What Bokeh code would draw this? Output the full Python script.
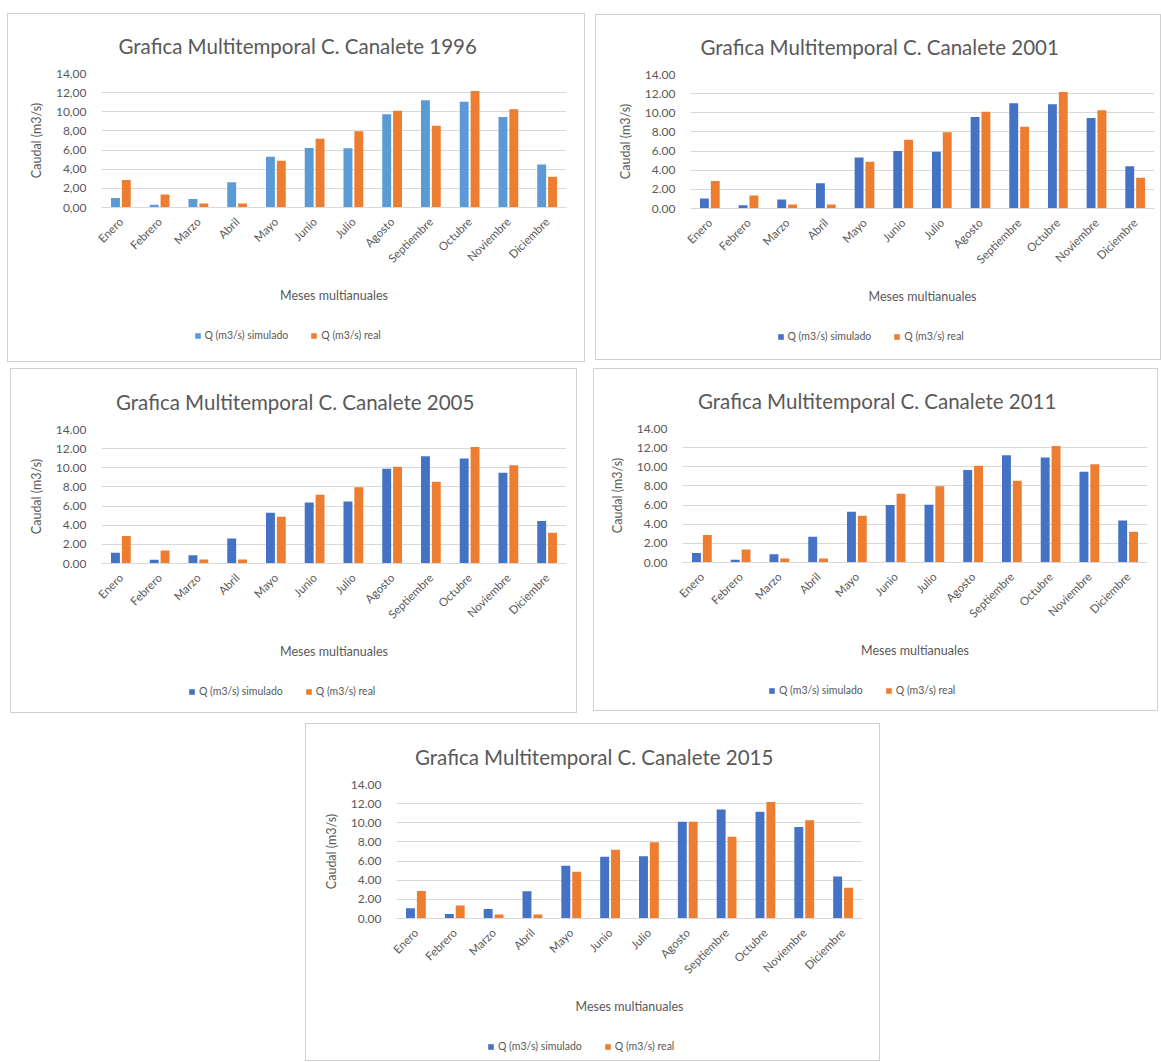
from math import pi
from bokeh.plotting import figure
from bokeh.models import (Range1d, FactorRange, FixedTicker, Legend, LegendItem,
                          ColumnDataSource)
from bokeh.transform import dodge
from bokeh.layouts import column, row
from bokeh.embed import file_html
from bokeh.resources import INLINE

# ---------------- data ----------------
months = ["Enero", "Febrero", "Marzo", "Abril", "Mayo", "Junio", "Julio",
          "Agosto", "Septiembre", "Octubre", "Noviembre", "Diciembre"]

real = [2.87, 1.35, 0.42, 0.42, 4.88, 7.17, 7.97, 10.12, 8.55, 12.18, 10.26, 3.22]

sim_1996 = [1.00, 0.30, 0.90, 2.65, 5.30, 6.22, 6.18, 9.75, 11.20, 11.05, 9.46, 4.48]
sim_2001 = [1.05, 0.35, 0.95, 2.65, 5.33, 6.00, 5.93, 9.55, 11.00, 10.90, 9.46, 4.41]
sim_2005 = [1.13, 0.38, 0.86, 2.60, 5.30, 6.38, 6.48, 9.90, 11.20, 10.97, 9.49, 4.45]
sim_2011 = [1.00, 0.30, 0.87, 2.70, 5.30, 6.00, 6.03, 9.66, 11.20, 10.97, 9.48, 4.38]
sim_2015 = [1.08, 0.47, 0.98, 2.85, 5.50, 6.44, 6.50, 10.10, 11.40, 11.15, 9.56, 4.40]

y_ticks = [0, 2, 4, 6, 8, 10, 12, 14]
y_labels_comma = ["0,00", "2,00", "4,00", "6,00", "8,00", "10,00", "12,00", "14,00"]
y_labels_dot = ["0.00", "2.00", "4.00", "6.00", "8.00", "10.00", "12.00", "14.00"]

title_prefix = "Grafica Multitemporal C. Canalete "
x_title = "Meses multianuales"
y_title = "Caudal (m3/s)"
label_sim = "Q (m3/s) simulado"
label_real = "Q (m3/s) real"

# ---------------- style ----------------
FONT = "Lato"
TXT = "#595959"
GRID = "#d9d9d9"
ORANGE = "#ED7D31"
BLUE_LIGHT = "#5B9BD5"
BLUE_DARK = "#4472C4"
TITLE_W = 358   # approximate rendered width of the title text
LEGEND_W = 205  # approximate rendered width of the legend
LEGEND_SHIFT = 94  # measured offset of the legend strip's origin


def panel(year, sim, sim_color, ylabels, w, h, left, right, top, bottom, margin):
    h_leg = 2 * (bottom - 128)
    src = ColumnDataSource(dict(month=months, sim=sim, real=real))
    p = figure(x_range=FactorRange(*months), y_range=Range1d(0, 14),
               width=w - 2, height=h - 2 - h_leg, output_backend="svg",
               toolbar_location=None,
               min_border_left=left, min_border_right=right,
               min_border_top=top, min_border_bottom=bottom - h_leg,
               title=title_prefix + year)
    p.outline_line_color = None
    p.background_fill_color = "white"
    p.border_fill_color = "white"

    # title centred on the whole panel (left aligned + offset)
    p.title.align = "left"
    p.title.offset = (w - TITLE_W) / 2.0 - left
    p.title.text_font = FONT
    p.title.text_font_size = "20.5px"
    p.title.text_font_style = "normal"
    p.title.text_color = TXT
    p.title.standoff = 31

    p.vbar(x=dodge("month", -0.14, range=p.x_range), top="sim", width=0.23,
           source=src, fill_color=sim_color, line_color=None)
    p.vbar(x=dodge("month", 0.14, range=p.x_range), top="real", width=0.23,
           source=src, fill_color=ORANGE, line_color=None)

    # y axis
    p.yaxis.ticker = FixedTicker(ticks=y_ticks)
    p.yaxis.major_label_overrides = {t: l for t, l in zip(y_ticks, ylabels)}
    p.yaxis.axis_line_color = None
    p.yaxis.major_tick_line_color = None
    p.yaxis.minor_tick_line_color = None
    p.yaxis.major_label_standoff = 9
    p.yaxis.major_label_text_font = FONT
    p.yaxis.major_label_text_font_size = "12px"
    p.yaxis.major_label_text_color = TXT
    p.yaxis.axis_label = y_title
    p.yaxis.axis_label_text_font = FONT
    p.yaxis.axis_label_text_font_size = "12.5px"
    p.yaxis.axis_label_text_font_style = "normal"
    p.yaxis.axis_label_text_color = TXT
    p.yaxis.axis_label_standoff = 9

    # x axis
    p.xaxis.axis_line_color = GRID
    p.xaxis.major_tick_line_color = None
    p.xaxis.minor_tick_line_color = None
    p.xaxis.major_label_orientation = pi / 4
    p.xaxis.major_label_standoff = 6
    p.xaxis.major_label_text_font = FONT
    p.xaxis.major_label_text_font_size = "11.5px"
    p.xaxis.major_label_text_color = TXT
    p.xaxis.axis_label = x_title
    p.xaxis.axis_label_text_font = FONT
    p.xaxis.axis_label_text_font_size = "12.5px"
    p.xaxis.axis_label_text_font_style = "normal"
    p.xaxis.axis_label_text_color = TXT
    p.xaxis.axis_label_standoff = 15

    p.xgrid.grid_line_color = None
    p.ygrid.grid_line_color = GRID
    p.ygrid.ticker = FixedTicker(ticks=y_ticks)

    # legend strip: its own small canvas, so nothing is clipped.  The swatch
    # renderers reuse the same data but their bars lie outside this strip's
    # y range, so only the legend itself is visible here.
    pl = figure(x_range=FactorRange(*months), y_range=Range1d(100, 101),
                width=w - 2, height=h_leg, output_backend="svg",
                toolbar_location=None, min_border=0,
                x_axis_location=None, y_axis_location=None)
    pl.grid.visible = False
    pl.outline_line_color = None
    pl.background_fill_color = "white"
    pl.border_fill_color = "white"
    s1 = pl.vbar(x="month", top="sim", width=0.23, source=src,
                 fill_color=sim_color, line_color=None)
    s2 = pl.vbar(x="month", top="real", width=0.23, source=src,
                 fill_color=ORANGE, line_color=None)
    legend = Legend(items=[LegendItem(label=label_sim, renderers=[s1]),
                           LegendItem(label=label_real, renderers=[s2])],
                    orientation="horizontal",
                    location=((w - LEGEND_W) / 2.0 - LEGEND_SHIFT,
                              (h_leg - 12) / 2.0),
                    glyph_width=7, glyph_height=7, spacing=22, padding=0,
                    margin=0, label_standoff=4, label_height=12,
                    label_text_font=FONT, label_text_font_size="10.5px",
                    label_text_color=TXT, border_line_color=None,
                    background_fill_alpha=0)
    pl.add_layout(legend)

    return column(p, pl, margin=margin,
                  styles={"border": "1px solid #d0d0d0"})


p1 = panel("1996", sim_1996, BLUE_LIGHT, y_labels_comma, 578, 349, 93, 18, 59, 154, (13, 0, 0, 7))
p2 = panel("2001", sim_2001, BLUE_DARK, y_labels_dot, 566, 346, 94, 6, 59, 151, (14, 0, 0, 10))
p3 = panel("2005", sim_2005, BLUE_DARK, y_labels_dot, 567, 345, 90, 10, 60, 149, (6, 0, 0, 10))
p4 = panel("2011", sim_2011, BLUE_DARK, y_labels_dot, 565, 343, 88, 10, 59, 148, (6, 0, 0, 16))
p5 = panel("2015", sim_2015, BLUE_DARK, y_labels_dot, 575, 338, 90, 17, 60, 142, (10, 0, 0, 305))

layout = column(row(p1, p2), row(p3, p4), row(p5))

open("out.html", "w").write(file_html(layout, INLINE))
